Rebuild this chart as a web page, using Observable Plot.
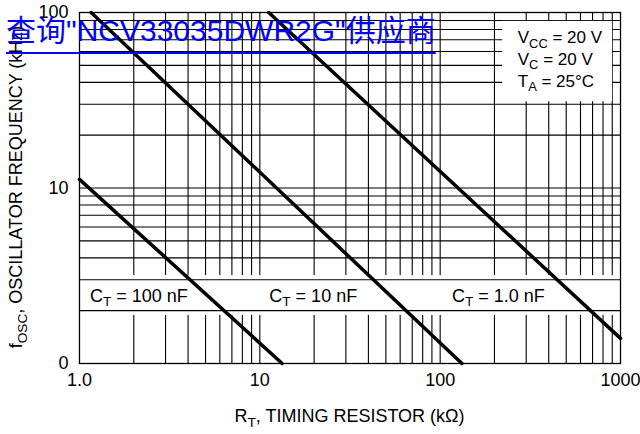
<!DOCTYPE html>
<html><head><meta charset="utf-8">
<script src="https://cdn.jsdelivr.net/npm/d3@7"></script>
<script src="https://cdn.jsdelivr.net/npm/@observablehq/plot@0.6"></script>
<style>
body{margin:0;background:#fff}
#wrap{position:relative;width:640px;height:434px;overflow:hidden}
#wm{position:absolute;left:6px;top:16px;font-size:30px;font-family:"Liberation Sans","Noto Sans CJK SC",sans-serif;color:#0000ff;text-decoration:underline;text-decoration-thickness:2px;text-underline-offset:11px;white-space:nowrap;line-height:1}
</style></head><body><div id="wrap"></div>
<script>
const FONT = '"Liberation Sans", Arial, sans-serif';

// ---- data ----
const ctNames = ["100 nF", "10 nF", "1.0 nF"];
const rt100nF = [1.0, 13.3];   // kΩ
const f100nF  = [11.2, 1.0];   // kHz
const rt10nF  = [1.16, 132];
const f10nF   = [100, 1.0];
const rt1nF   = [11.2, 1000];
const f1nF    = [100, 1.39];

const xTicks = [1, 10, 100, 1000];
const xTickLabels = ["1.0", "10", "100", "1000"];
const yTicks = [1, 10, 100];
const yTickLabels = ["0", "10", "100"];
const xGrid = [2,3,4,5,6,7,8,9,10,20,30,40,50,60,70,80,90,100,200,300,400,500,600,700,800,900];
const yGrid = [2,3,4,5,6,7,8,9,10,20,30,40,50,60,70,80,90];

const conditions = [["V", "CC", " = 20 V"], ["V", "C", " = 20 V"], ["T", "A", " = 25°C"]];

// ---- build rows ----
const curves = [];
[[rt100nF, f100nF], [rt10nF, f10nF], [rt1nF, f1nF]].forEach(([rs, fs], i) => {
  rs.forEach((r, j) => curves.push({ct: ctNames[i], rt: r, f: fs[j]}));
});

const band = [{x1: 1, x2: 1000, y1: 1.88, y2: 3.17}];
const box = [{x1: 222, x2: 904, y1: 31, y2: 89}];

const plot = Plot.plot({
  width: 640, height: 434,
  marginLeft: 79, marginRight: 20, marginTop: 12, marginBottom: 71,
  style: {fontFamily: FONT, fontSize: "18px", color: "#000", background: "#fff"},
  x: {type: "log", domain: [1, 1000]},
  y: {type: "log", domain: [1, 100]},
  marks: [
    Plot.ruleX(xGrid, {stroke: "#000", strokeWidth: 1.1}),
    Plot.rect(band, {x1: "x1", x2: "x2", y1: "y1", y2: "y2", fill: "#fff"}),
    Plot.ruleY(yGrid, {stroke: "#000", strokeWidth: 1.1}),
    Plot.rect(box, {x1: "x1", x2: "x2", y1: "y1", y2: "y2", fill: "#fff"}),
    Plot.line(curves, {x: "rt", y: "f", z: "ct", stroke: "#000", strokeWidth: 3.5}),
    Plot.frame({stroke: "#000", strokeWidth: 1.3}),
    Plot.axisX({ticks: xTicks, tickFormat: d => xTickLabels[xTicks.indexOf(d)], tickSize: 0, tickPadding: 10, label: null, fontSize: 18}),
    Plot.axisY({ticks: yTicks, tickFormat: d => yTickLabels[yTicks.indexOf(d)], tickSize: 0, tickPadding: 11, label: null, fontSize: 18})
  ]
});

document.getElementById("wrap").appendChild(plot);

const xs = plot.scale("x"), ys = plot.scale("y");
const svg = d3.select(plot);

function rich(x, y, parts, opts = {}) {
  const size = opts.size || 18;
  const t = svg.append("text").attr("x", x).attr("y", y)
    .attr("font-family", FONT).attr("font-size", size).attr("fill", "#000")
    .attr("text-anchor", opts.anchor || "start");
  if (opts.rotate) t.attr("transform", `rotate(-90,${x},${y})`);
  const drop = size * 0.26;
  parts.forEach((p, i) => {
    const sub = i % 2 === 1;
    const ts = t.append("tspan").text(p);
    if (sub) ts.attr("dy", drop).attr("font-size", size * 0.76);
    else if (i > 0) ts.attr("dy", -drop);
  });
  return t;
}

// curve labels
const ctLabelX = [1.15, 11.35, 117];
const ctLabelY = 2.24;
ctNames.forEach((n, i) => rich(xs.apply(ctLabelX[i]), ys.apply(ctLabelY), ["C", "T", " = " + n], {size: 18}));

// conditions box
const condX = 271;
const condY = [66.3, 49.9, 37.5];
conditions.forEach((c, i) => rich(xs.apply(condX), ys.apply(condY[i]), c, {size: 17}));

// axis titles
rich((79 + 620) / 2, 422, ["R", "T", ", TIMING RESISTOR (kΩ)"], {anchor: "middle"});
rich(22, 187, ["f", "OSC", ", OSCILLATOR FREQUENCY (kHz)"], {anchor: "middle", rotate: true});

// overlay link text
const wm = document.createElement("div");
wm.id = "wm";
wm.textContent = '查询"NCV33035DWR2G"供应商';
document.getElementById("wrap").appendChild(wm);
</script>
</body></html>
